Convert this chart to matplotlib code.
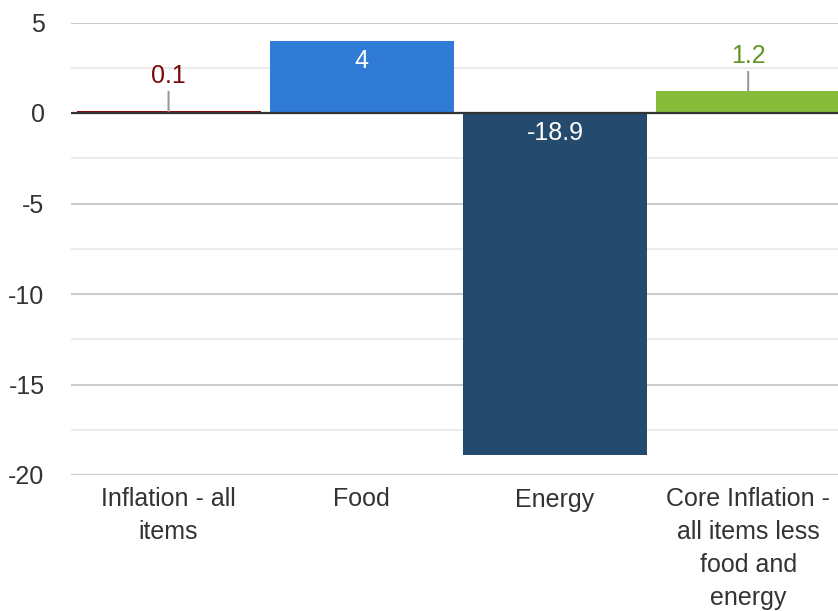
import matplotlib
matplotlib.use("Agg")
import matplotlib.pyplot as plt
from matplotlib.ticker import MultipleLocator

plt.rcParams['font.family'] = ['Liberation Sans', 'DejaVu Sans']

categories = ["Inflation - all\nitems", "Food", "Energy",
              "Core Inflation -\nall items less\nfood and\nenergy"]
values = [0.1, 4.0, -18.9, 1.2]
bar_colors = ["#8b0d0d", "#2f7bd6", "#244b6e", "#86bc3a"]
label_colors = ["#7a0a0a", "#ffffff", "#ffffff", "#5f9624"]
label_inside = [False, True, True, False]
y_ticks = [5, 0, -5, -10, -15, -20]

fig = plt.figure(figsize=(8.38, 6.11), dpi=100)
ax = fig.add_axes([71/838, (611-475)/611, 1 - 71/838, (475-22.5)/611])

x = list(range(len(categories)))
ax.bar(x, values, width=0.953, color=bar_colors, edgecolor="none", zorder=3)

ax.set_ylim(-20, 5)
ax.set_xlim(-0.505, 3.465)
ax.set_yticks(y_ticks)
ax.set_yticklabels([str(t) for t in y_ticks])
ax.yaxis.set_minor_locator(MultipleLocator(2.5))
ax.grid(axis="y", which="major", color="#cccccc", linewidth=1.5, zorder=0)
ax.grid(axis="y", which="minor", color="#e8e8e8", linewidth=1.2, zorder=0)
ax.axhline(0, color="#333333", linewidth=1.6, zorder=4)
ax.set_xticks(x)
ax.set_xticklabels(categories, fontsize=18, color="#333333", linespacing=1.46,
                   va="top")
ax.tick_params(axis="both", which="both", length=0, labelsize=18, colors="#333333")
ax.tick_params(axis="x", pad=9)
ax.tick_params(axis="y", pad=19)
for s in ax.spines.values():
    s.set_visible(False)

for xi, v, c, inside in zip(x, values, label_colors, label_inside):
    txt = f"{v:g}"
    if inside:
        anchor = max(v, 0)
        ax.annotate(txt, (xi, anchor), xytext=(0, -6),
                    textcoords="offset points", ha="center", va="top",
                    color=c, fontsize=18, zorder=5)
    else:
        ax.annotate(txt, (xi, v), xytext=(0, 17), textcoords="offset points",
                    ha="center", va="bottom", color=c, fontsize=18, zorder=5,
                    arrowprops=dict(arrowstyle="-", color="#999999", lw=1.5,
                                    shrinkA=1, shrinkB=0))

fig.savefig("out.png", dpi=100)
